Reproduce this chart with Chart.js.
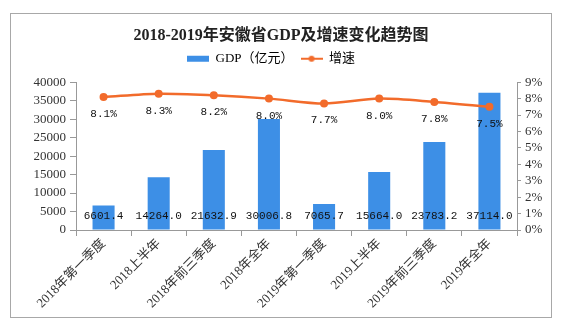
<!DOCTYPE html>
<html>
<head>
<meta charset="utf-8">
<script src="https://cdn.jsdelivr.net/npm/chart.js@4/dist/chart.umd.min.js"></script>
<style>
  html, body { margin: 0; padding: 0; background: #fff; }
  #wrap { position: relative; width: 562px; height: 332px; }
</style>
</head>
<body>
<div id="wrap"><canvas id="gdpChart" width="562" height="332"></canvas></div>
<script>
const categories = ['2018年第一季度', '2018上半年', '2018年前三季度', '2018年全年',
    '2019年第一季度', '2019上半年', '2019年前三季度', '2019年全年'];
const gdpValues = [6601.4, 14264.0, 21632.9, 30006.8, 7065.7, 15664.0, 23783.2, 37114.0];
const growthValues = [8.1, 8.3, 8.2, 8.0, 7.7, 8.0, 7.8, 7.5];

const barColor = '#3d8fe6';
const lineColor = '#f26b2b';
const serif = "'Liberation Serif', 'Noto Sans CJK SC', serif";
const mono = "'Liberation Mono', 'Noto Sans CJK SC', monospace";

// little legend icons
function makeIcon(kind) {
    const c = document.createElement('canvas');
    c.width = 22; c.height = 8;
    const g = c.getContext('2d');
    if (kind === 'bar') {
        g.fillStyle = barColor;
        g.fillRect(0, 1, 22, 6);
    } else {
        g.strokeStyle = lineColor;
        g.lineWidth = 2;
        g.beginPath(); g.moveTo(0, 4); g.lineTo(22, 4); g.stroke();
        g.fillStyle = lineColor;
        g.beginPath(); g.arc(11, 4, 3, 0, Math.PI * 2); g.fill();
    }
    return c;
}

const frame = {
    id: 'frame',
    afterInit(chart) {
        // extra room under the legend, and nudge it a bit left
        const lg = chart.legend;
        if (lg && !lg._patched) {
            const fit = lg.fit;
            lg.fit = function () { fit.call(this); this.height += 7; };
            const draw = lg._draw;
            lg._draw = function () {
                this.ctx.save();
                this.ctx.translate(-10, 0);
                draw.call(this);
                this.ctx.restore();
            };
            lg._patched = true;
        }
    },
    beforeDraw(chart) {
        const ctx = chart.ctx;
        ctx.save();
        ctx.fillStyle = '#fff';
        ctx.fillRect(0, 0, chart.width, chart.height);
        ctx.strokeStyle = '#a8a8a8';
        ctx.lineWidth = 1;
        ctx.strokeRect(10.5, 13.5, 541, 304);
        ctx.restore();
    }
};

const valueLabels = {
    id: 'valueLabels',
    afterDatasetsDraw(chart) {
        const ctx = chart.ctx;
        ctx.save();
        ctx.font = '11px ' + mono;
        ctx.fillStyle = '#111';
        ctx.textAlign = 'center';
        ctx.textBaseline = 'middle';
        const y = chart.scales.y;
        chart.getDatasetMeta(1).data.forEach((bar, i) => {
            ctx.fillText(gdpValues[i].toFixed(1), bar.x, y.bottom - 14);
        });
        chart.getDatasetMeta(0).data.forEach((pt, i) => {
            ctx.fillText(growthValues[i].toFixed(1) + '%', pt.x, pt.y + 17);
        });
        ctx.restore();
    }
};

new Chart(document.getElementById('gdpChart'), {
    data: {
        labels: categories,
        datasets: [{
            type: 'line',
            label: '增速',
            data: growthValues,
            yAxisID: 'y1',
            borderColor: lineColor,
            backgroundColor: lineColor,
            borderWidth: 2.5,
            pointRadius: 4,
            pointBackgroundColor: lineColor,
            pointBorderWidth: 0,
            tension: 0.3,
            order: 0
        }, {
            type: 'bar',
            label: 'GDP（亿元）',
            data: gdpValues,
            yAxisID: 'y',
            backgroundColor: barColor,
            categoryPercentage: 0.8,
            barPercentage: 0.5,
            order: 1
        }]
    },
    options: {
        responsive: false,
        animation: false,
        layout: { padding: { top: 16, left: 0, right: 0, bottom: 0 } },
        plugins: {
            title: {
                display: true,
                text: '2018-2019年安徽省GDP及增速变化趋势图',
                color: '#222',
                font: { family: serif, size: 16, weight: 'bold' },
                padding: { top: 10, bottom: 0 }
            },
            legend: {
                labels: {
                    usePointStyle: true,
                    pointStyleWidth: 22,
                    boxHeight: 8,
                    color: '#333',
                    font: { family: serif, size: 13 },
                    padding: 7,
                    generateLabels() {
                        return [
                            { text: 'GDP（亿元）', pointStyle: makeIcon('bar'), fillStyle: barColor, strokeStyle: barColor, lineWidth: 0, datasetIndex: 1 },
                            { text: '增速', pointStyle: makeIcon('line'), fillStyle: lineColor, strokeStyle: lineColor, lineWidth: 0, datasetIndex: 0 }
                        ];
                    }
                }
            },
            tooltip: { enabled: false }
        },
        scales: {
            x: {
                offset: true,
                grid: { offset: true, drawOnChartArea: false, tickLength: 6, color: '#999' },
                border: { color: '#999' },
                ticks: {
                    minRotation: 45, maxRotation: 45,
                    color: '#333',
                    font: { family: serif, size: 13 },
                    padding: 0
                },
                afterFit(scale) { scale.height = 102; }
            },
            y: {
                position: 'left',
                min: 0, max: 40000,
                grid: { drawOnChartArea: false, tickLength: 6, color: '#999' },
                border: { color: '#999' },
                ticks: {
                    stepSize: 5000,
                    autoSkip: false,
                    color: '#333',
                    font: { family: serif, size: 13 },
                    padding: 4,
                    callback: v => String(v)
                },
                afterFit(scale) { scale.width = 76; }
            },
            y1: {
                position: 'right',
                min: 0, max: 9,
                grid: { drawOnChartArea: false, tickLength: 4, color: '#999' },
                border: { color: '#999' },
                ticks: {
                    stepSize: 1,
                    autoSkip: false,
                    color: '#333',
                    font: { family: serif, size: 13 },
                    padding: 4,
                    callback: v => v + '%'
                },
                afterFit(scale) { scale.width = 45; }
            }
        }
    },
    plugins: [frame, valueLabels]
});
</script>
</body>
</html>
